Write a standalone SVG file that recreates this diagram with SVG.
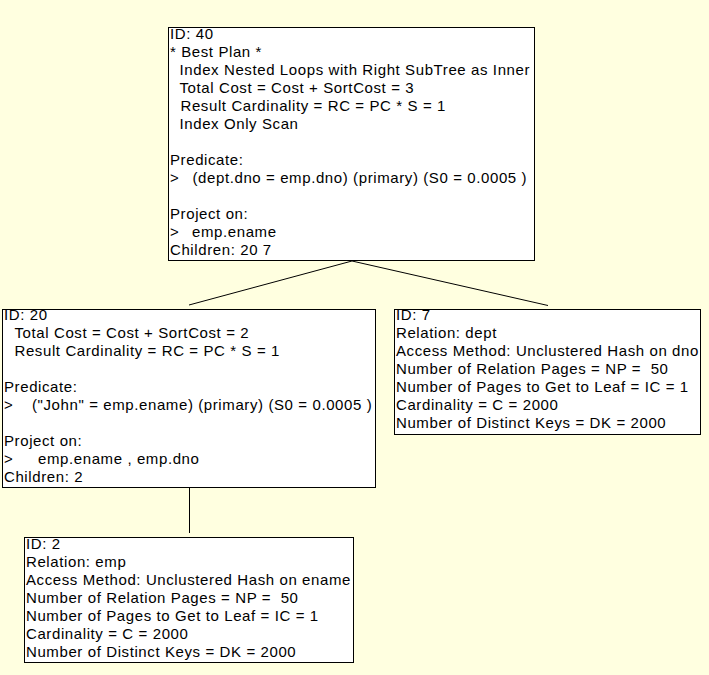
<svg xmlns="http://www.w3.org/2000/svg" width="709" height="675" viewBox="0 0 709 675">
<style>
.box{fill:#ffffff;stroke:#000000;stroke-width:1}
.t{font-family:"Liberation Sans",Arial,Helvetica,sans-serif;font-size:15px;letter-spacing:0.6px;fill:#000000;white-space:pre}
.c{stroke:#000000;stroke-width:1;fill:none}
</style>
<rect x="0" y="0" width="709" height="675" fill="#ffffe0"/>
<g id="connectors">
<line class="c" x1="352" y1="261" x2="189" y2="305"/>
<line class="c" x1="352" y1="261" x2="548" y2="305.5"/>
<line class="c" x1="189.5" y1="488" x2="189.5" y2="533"/>
</g>
<g id="node40">
<rect class="box" x="168.5" y="27.5" width="366" height="233"/>
<text class="t" x="170" y="38.5">ID: 40</text>
<text class="t" x="170" y="56.5">* Best Plan *</text>
<text class="t" x="179.5" y="74.6">Index Nested Loops with Right SubTree as Inner</text>
<text class="t" x="179.5" y="92.7">Total Cost = Cost + SortCost = 3</text>
<text class="t" x="180.5" y="110.7">Result Cardinality = RC = PC * S = 1</text>
<text class="t" x="179.5" y="128.8">Index Only Scan</text>
<text class="t" x="170" y="164.9">Predicate:</text>
<text class="t" x="170" y="182.9">&gt;</text>
<text class="t" x="192.5" y="182.9">(dept.dno = emp.dno) (primary) (S0 = 0.0005 )</text>
<text class="t" x="170" y="219">Project on:</text>
<text class="t" x="170" y="237.1">&gt;</text>
<text class="t" x="192" y="237.1">emp.ename</text>
<text class="t" x="170" y="255.1">Children: 20 7</text>
</g>
<g id="node20">
<rect class="box" x="2.5" y="309.5" width="373" height="178"/>
<text class="t" x="4" y="319.5">ID: 20</text>
<text class="t" x="14.5" y="337.5">Total Cost = Cost + SortCost = 2</text>
<text class="t" x="14.5" y="355.6">Result Cardinality = RC = PC * S = 1</text>
<text class="t" x="4" y="391.7">Predicate:</text>
<text class="t" x="4" y="409.7">&gt;</text>
<text class="t" x="32" y="409.7">("John" = emp.ename) (primary) (S0 = 0.0005 )</text>
<text class="t" x="4" y="445.8">Project on:</text>
<text class="t" x="4" y="463.9">&gt;</text>
<text class="t" x="38" y="463.9">emp.ename , emp.dno</text>
<text class="t" x="4" y="482">Children: 2</text>
</g>
<g id="node7">
<rect class="box" x="394.5" y="309.5" width="306" height="125"/>
<text class="t" x="396" y="319.5">ID: 7</text>
<text class="t" x="396" y="337.5">Relation: dept</text>
<text class="t" x="396" y="355.6">Access Method: Unclustered Hash on dno</text>
<text class="t" x="396" y="373.7">Number of Relation Pages = NP =  50</text>
<text class="t" x="396" y="391.7">Number of Pages to Get to Leaf = IC = 1</text>
<text class="t" x="396" y="409.7">Cardinality = C = 2000</text>
<text class="t" x="396" y="427.8">Number of Distinct Keys = DK = 2000</text>
</g>
<g id="node2">
<rect class="box" x="24.5" y="537.5" width="329" height="125"/>
<text class="t" x="26" y="548.5">ID: 2</text>
<text class="t" x="26" y="566.5">Relation: emp</text>
<text class="t" x="26" y="584.6">Access Method: Unclustered Hash on ename</text>
<text class="t" x="26" y="602.7">Number of Relation Pages = NP =  50</text>
<text class="t" x="26" y="620.7">Number of Pages to Get to Leaf = IC = 1</text>
<text class="t" x="26" y="638.8">Cardinality = C = 2000</text>
<text class="t" x="26" y="656.8">Number of Distinct Keys = DK = 2000</text>
</g>
</svg>
